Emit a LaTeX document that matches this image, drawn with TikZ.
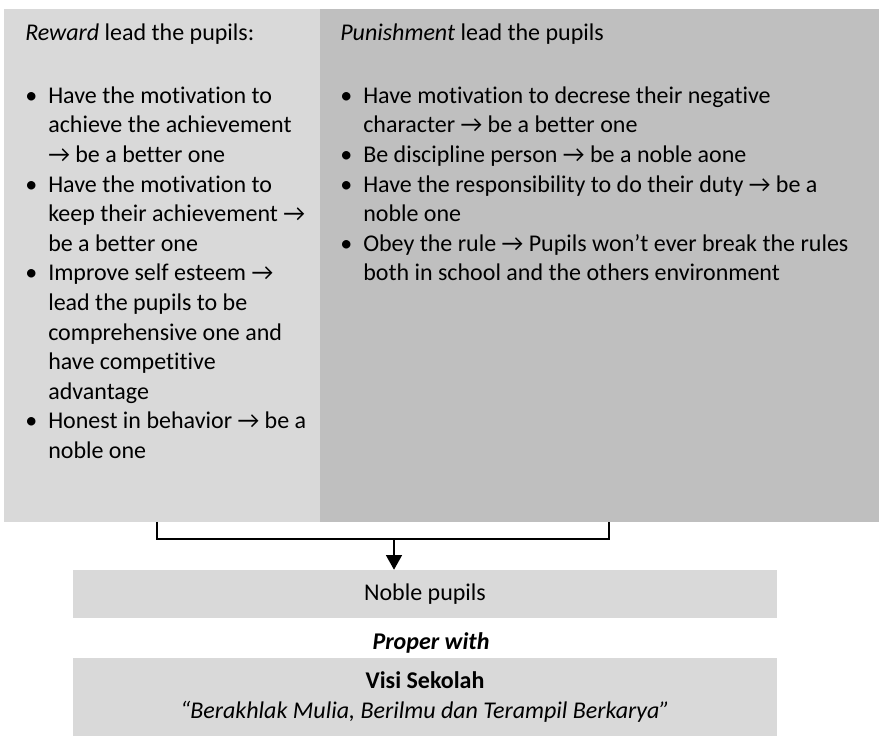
\documentclass[tikz,border=0pt]{standalone}
\usepackage{fontspec}
\setmainfont{Carlito}[Ligatures={NoCommon}]
\usetikzlibrary{arrows.meta}
\definecolor{lightbox}{HTML}{D9D9D9}
\definecolor{darkbox}{HTML}{BFBFBF}
% bullet items with hanging indent; the first one continues the paragraph
% the node has already opened, so its baseline is the node's base
\newcommand\bulfirst[1]{\hangindent=17.25pt\hangafter=1\makebox[17.25pt][l]{•}#1}
\newcommand\bul[1]{\par\hangindent=17.25pt\hangafter=1\noindent\makebox[17.25pt][l]{•}#1}
\newcommand\toarrow{→}
\tikzset{
  body/.style={font={\fontsize{18pt}{22.2pt}\selectfont}, inner sep=0pt},
  panel/.style={anchor=north west, inner sep=0pt, draw=none, minimum height=384.75pt},
  listtext/.style={body, anchor=base west},
  strip/.style={fill=lightbox, inner sep=0pt, minimum width=528pt},
  link/.style={line width=1.1pt, black},
}
\begin{document}
\begin{tikzpicture}[x=0.75pt,y=-0.75pt]
\useasboundingbox (0,0) rectangle (879,737);

% two panels
\node[panel, fill=lightbox, minimum width=237pt] (reward) at (4,9) {};
\node[panel, fill=darkbox, minimum width=419.25pt] (punish) at (320,9) {};

% headers
\node[listtext] (rhead) at (25,40.5) {\textit{Reward} lead the pupils:};
\node[listtext] (phead) at (340,40.5) {\textit{Punishment} lead the pupils};

% bullet lists
\node[listtext, text width=260pt] (rlist) at (25,103.3) {\raggedright\spaceskip=0.226em\relax%
\bulfirst{Have the motivation to\newline achieve the achievement\newline \toarrow{} be a better one}
\bul{Have the motivation to\newline keep their achievement \toarrow\newline be a better one}
\bul{Improve self esteem \toarrow\newline lead the pupils to be\newline comprehensive one and\newline have competitive\newline advantage}
\bul{Honest in behavior \toarrow{} be a\newline noble one}\par};

\node[listtext, text width=500pt] (plist) at (340,103.3) {\raggedright\spaceskip=0.226em\relax%
\bulfirst{Have motivation to decrese their negative\newline character \toarrow{} be a better one}
\bul{Be discipline person \toarrow{} be a noble aone}
\bul{Have the responsibility to do their duty \toarrow{} be a\newline noble one}
\bul{Obey the rule \toarrow{} Pupils won’t ever break the rules\newline both in school and the others environment}\par};

% result strips
\node[strip, minimum height=36pt, body] (noble) at (425,594) {Noble pupils};
\node[body, font={\fontsize{18pt}{22.2pt}\selectfont\bfseries\itshape}] (proper) at (431,643) {Proper with};
\node[strip, minimum height=58.5pt, body, align=center,
      font={\fontsize{18pt}{22pt}\selectfont}] (visi) at (425,697)
  {\textbf{Visi Sekolah}\\\textit{“Berakhlak Mulia, Berilmu dan Terampil Berkarya”}};

% joining connector
\coordinate (cl) at (157,522);
\coordinate (cr) at (609,522);
\coordinate (join) at (394,539);
\draw[link] (cl) -- (cl |- join) -- (cr |- join) -- (cr);
\draw[link, -{Triangle[width=12pt,length=11pt]}] (join) -- (join |- noble.north);
\end{tikzpicture}
\end{document}
